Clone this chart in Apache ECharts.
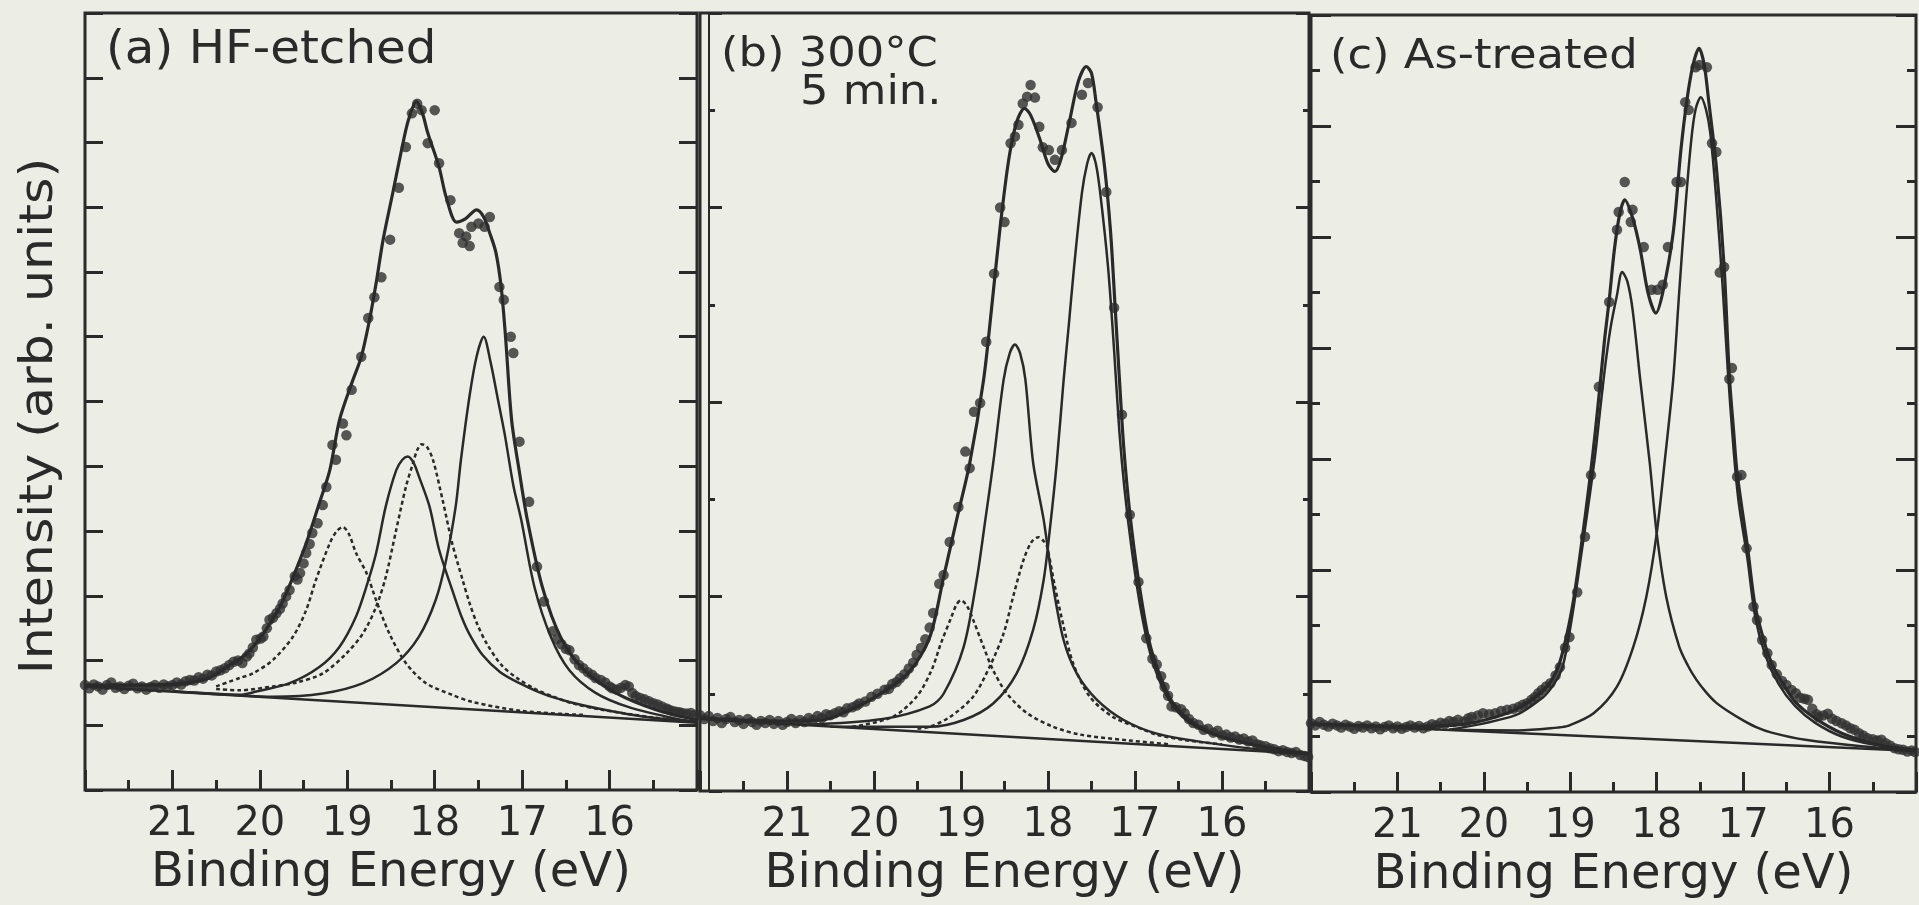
<!DOCTYPE html>
<html>
<head>
<meta charset="utf-8">
<script src="https://cdn.jsdelivr.net/npm/echarts@6/dist/echarts.min.js"></script>
<style>
  html, body { margin: 0; padding: 0; background: #eceee6; }
  #chart { width: 1919px; height: 905px; }
</style>
</head>
<body>
<div id="chart"></div>
<script>
// ---- panel (a) HF-etched : [binding energy eV, intensity]
const bgA = [[22, 1.6], [15, 1.04]]
const fitA = [[22, 1.62], [21.5, 1.62], [21.0, 1.63], [20.6, 1.72], [20.4, 1.88], [20.15, 2.11], [19.96, 2.42], [19.77, 2.83],
  [19.62, 3.29], [19.47, 3.81], [19.32, 4.43], [19.2, 4.94], [19.09, 5.71], [18.95, 6.28], [18.84, 6.69], [18.74, 7.3],
  [18.67, 7.83], [18.59, 8.5], [18.48, 9.22], [18.38, 9.88], [18.3, 10.35], [18.21, 10.63], [18.14, 10.45], [18.08, 10.15],
  [17.95, 9.62], [17.87, 9.16], [17.75, 8.77], [17.65, 8.82], [17.52, 8.96], [17.44, 8.85], [17.37, 8.6], [17.3, 8.3],
  [17.24, 7.77], [17.19, 7.0], [17.12, 5.71], [17.03, 4.9], [16.94, 4.17], [16.77, 3.14], [16.56, 2.36], [16.29, 1.85],
  [15.93, 1.5], [15.47, 1.24], [15.0, 1.08]]
const compA1 = [[21.0, 1.52], [20.4, 1.48], [19.85, 1.44], [19.28, 1.49], [18.82, 1.65], [18.44, 1.96], [18.18, 2.37],
  [17.99, 2.93], [17.87, 3.55], [17.76, 4.38], [17.7, 5.1], [17.6, 6.1], [17.52, 6.7], [17.44, 7.0], [17.36, 6.6],
  [17.28, 6.05], [17.2, 5.5], [17.1, 4.7], [17.01, 4.17], [16.86, 3.14], [16.67, 2.36], [16.46, 1.85], [16.16, 1.5],
  [15.78, 1.28], [15.17, 1.08], [15.0, 1.05]]
const compA2 = [[21.0, 1.53], [20.23, 1.47], [20.04, 1.52], [19.66, 1.65], [19.32, 1.9], [19.09, 2.21], [18.9, 2.68],
  [18.77, 3.19], [18.67, 3.66], [18.56, 4.38], [18.44, 4.94], [18.37, 5.1], [18.31, 5.15], [18.24, 5.05], [18.18, 4.84],
  [18.06, 4.38], [17.95, 3.71], [17.8, 3.09], [17.7, 2.7], [17.6, 2.4], [17.45, 2.08], [17.25, 1.82], [17.03, 1.65],
  [16.75, 1.48], [16.46, 1.36], [16.1, 1.25], [15.6, 1.13], [15.0, 1.05]]
const compA3 = [[20.5, 1.56], [20.23, 1.54], [19.85, 1.6], [19.58, 1.66], [19.28, 1.8], [19.01, 2.11], [18.82, 2.42],
  [18.67, 2.83], [18.56, 3.29], [18.44, 4.02], [18.33, 4.68], [18.25, 5.04], [18.2, 5.25], [18.15, 5.34], [18.09, 5.3],
  [18.02, 5.1], [17.91, 4.48], [17.8, 3.81], [17.68, 3.24], [17.6, 2.88], [17.51, 2.55], [17.4, 2.25], [17.23, 1.92],
  [17.05, 1.72], [16.85, 1.56], [16.66, 1.45], [16.4, 1.33], [16.09, 1.24], [15.5, 1.12], [15.0, 1.06]]
const compA4 = [[20.5, 1.6], [20.23, 1.73], [20.08, 1.8], [19.85, 2.01], [19.62, 2.37], [19.47, 2.78], [19.36, 3.24],
  [19.2, 3.81], [19.12, 4.0], [19.05, 4.06], [18.98, 3.95], [18.9, 3.66], [18.78, 3.35], [18.67, 2.93], [18.52, 2.42],
  [18.33, 1.96], [18.1, 1.65], [17.8, 1.47], [17.57, 1.36], [17.0, 1.22], [16.3, 1.16]]
const dotsA = [[22.0, 1.62], [21.95, 1.57], [21.9, 1.63], [21.85, 1.6], [21.8, 1.55], [21.75, 1.62], [21.7, 1.66], [21.65, 1.58],
  [21.6, 1.6], [21.55, 1.56], [21.5, 1.61], [21.45, 1.64], [21.4, 1.57], [21.35, 1.6], [21.3, 1.55], [21.25, 1.59], [21.2, 1.62],
  [21.15, 1.58], [21.1, 1.63], [21.05, 1.6], [21.0, 1.62], [20.95, 1.66], [20.9, 1.63], [20.85, 1.68], [20.8, 1.7],
  [20.75, 1.69], [20.7, 1.74], [20.65, 1.72], [20.6, 1.78], [20.55, 1.77], [20.5, 1.83], [20.45, 1.85], [20.4, 1.88],
  [20.35, 1.93], [20.3, 1.98], [20.25, 2.0], [20.2, 1.96], [20.15, 2.06], [20.12, 2.11], [20.08, 2.2], [20.04, 2.32],
  [19.99, 2.34], [19.96, 2.37], [19.92, 2.5], [19.89, 2.63], [19.85, 2.66], [19.81, 2.73], [19.77, 2.8], [19.74, 2.88],
  [19.7, 2.99], [19.66, 3.09], [19.6, 3.3], [19.57, 3.25], [19.54, 3.35], [19.5, 3.5], [19.47, 3.66], [19.43, 3.8],
  [19.4, 3.97], [19.34, 4.12], [19.28, 4.4], [19.24, 4.68], [19.17, 5.33], [19.13, 5.1], [19.05, 5.66], [19.01, 5.48],
  [18.95, 6.18], [18.84, 6.69], [18.76, 7.29], [18.69, 7.61], [18.61, 7.92], [18.51, 8.5], [18.41, 9.3], [18.33, 9.93],
  [18.26, 10.45], [18.2, 10.6], [18.15, 10.5], [18.08, 9.99], [18.0, 10.5], [17.95, 9.68], [17.82, 9.11], [17.72, 8.6],
  [17.68, 8.45], [17.64, 8.55], [17.6, 8.4], [17.58, 8.7], [17.5, 8.75], [17.43, 8.7], [17.37, 8.85], [17.26, 7.77],
  [17.21, 7.57], [17.13, 7.0], [17.1, 6.75], [17.03, 5.38], [16.92, 4.45], [16.83, 3.45], [16.75, 2.91], [16.65, 2.45],
  [16.6, 2.33], [16.55, 2.25], [16.5, 2.18], [16.46, 2.16], [16.4, 2.02], [16.35, 1.93], [16.3, 1.88], [16.25, 1.82],
  [16.2, 1.78], [16.16, 1.73], [16.1, 1.7], [16.05, 1.66], [16.0, 1.6], [15.97, 1.57], [15.92, 1.55], [15.87, 1.58],
  [15.82, 1.62], [15.78, 1.6], [15.74, 1.5], [15.7, 1.45], [15.65, 1.42], [15.6, 1.4], [15.55, 1.37], [15.5, 1.34],
  [15.45, 1.32], [15.4, 1.29], [15.35, 1.26], [15.32, 1.24], [15.28, 1.22], [15.24, 1.21], [15.2, 1.2], [15.17, 1.19],
  [15.12, 1.18], [15.07, 1.19], [15.03, 1.16]]

// ---- panel (b) 300°C 5 min.
const bgB = [[22, 0.74], [15, 0.38]]
const fitB = [[22, 0.75], [21.5, 0.73], [21.0, 0.72], [20.6, 0.73], [20.36, 0.8], [19.98, 0.97], [19.6, 1.22], [19.36, 1.58],
  [19.2, 2.2], [19.05, 2.79], [18.9, 3.37], [18.74, 4.23], [18.65, 4.95], [18.55, 5.8], [18.45, 6.5], [18.36, 6.88],
  [18.27, 7.02], [18.2, 6.95], [18.1, 6.72], [18.0, 6.45], [17.92, 6.37], [17.85, 6.5], [17.75, 6.9], [17.65, 7.3],
  [17.56, 7.45], [17.5, 7.38], [17.45, 7.1], [17.35, 6.42], [17.28, 5.74], [17.23, 5.0], [17.18, 4.25], [17.13, 3.54],
  [17.06, 2.86], [16.96, 2.17], [16.84, 1.55], [16.71, 1.18], [16.56, 0.9], [16.33, 0.7], [16.02, 0.56], [15.56, 0.46], [15.0, 0.38]]
const compB1 = [[20.5, 0.66], [19.36, 0.66], [18.97, 0.73], [18.63, 0.9], [18.36, 1.21], [18.17, 1.66], [18.05, 2.17],
  [17.98, 2.68], [17.9, 3.37], [17.82, 4.23], [17.76, 4.8], [17.7, 5.39], [17.61, 6.15], [17.55, 6.45], [17.5, 6.56],
  [17.45, 6.45], [17.4, 6.15], [17.31, 5.39], [17.24, 4.53], [17.18, 3.7], [17.12, 3.1], [17.04, 2.5], [16.94, 1.9],
  [16.82, 1.4], [16.66, 1.02], [16.45, 0.76], [16.15, 0.6], [15.6, 0.47], [15.0, 0.38]]
const compB2 = [[20.8, 0.68], [19.9, 0.74], [19.36, 0.87], [19.2, 1.0], [18.97, 1.48], [18.82, 2.17], [18.72, 2.79],
  [18.63, 3.37], [18.51, 4.23], [18.44, 4.5], [18.38, 4.59], [18.32, 4.5], [18.26, 4.23], [18.17, 3.37], [18.05, 2.79],
  [17.94, 2.1], [17.82, 1.55], [17.67, 1.21], [17.44, 0.94], [17.13, 0.73], [16.75, 0.59], [16.2, 0.5], [15.5, 0.42], [15.0, 0.39]]
const compB3 = [[19.5, 0.64], [19.36, 0.66], [19.13, 0.76], [18.86, 0.97], [18.67, 1.28], [18.51, 1.62], [18.4, 2.0],
  [18.28, 2.38], [18.19, 2.56], [18.11, 2.61], [18.05, 2.57], [18.01, 2.51], [17.92, 2.1], [17.82, 1.69], [17.71, 1.31],
  [17.52, 0.97], [17.25, 0.76], [16.9, 0.63], [16.76, 0.58], [16.4, 0.52], [16.0, 0.48]]
const compB4 = [[20.25, 0.66], [19.79, 0.76], [19.51, 0.97], [19.34, 1.24], [19.23, 1.52], [19.11, 1.79], [19.05, 1.92],
  [19.0, 1.96], [18.93, 1.9], [18.86, 1.76], [18.74, 1.48], [18.63, 1.24], [18.47, 1.0], [18.24, 0.8], [17.94, 0.66],
  [17.63, 0.58], [17.07, 0.52], [16.6, 0.48]]
const dotsB = [[22, 0.78], [21.95, 0.74], [21.9, 0.77], [21.85, 0.72], [21.8, 0.75], [21.75, 0.7], [21.7, 0.74], [21.65, 0.76],
  [21.6, 0.71], [21.55, 0.73], [21.5, 0.69], [21.45, 0.74], [21.4, 0.71], [21.35, 0.68], [21.3, 0.72], [21.25, 0.7],
  [21.2, 0.73], [21.15, 0.69], [21.1, 0.72], [21.05, 0.68], [21.0, 0.71], [20.95, 0.74], [20.9, 0.7], [20.85, 0.73],
  [20.8, 0.71], [20.75, 0.75], [20.7, 0.73], [20.65, 0.77], [20.6, 0.75], [20.55, 0.79], [20.5, 0.78], [20.45, 0.8],
  [20.4, 0.82], [20.35, 0.81], [20.31, 0.85], [20.25, 0.86], [20.2, 0.88], [20.17, 0.9], [20.1, 0.92], [20.03, 0.97],
  [19.96, 1.0], [19.88, 1.04], [19.83, 1.05], [19.79, 1.1], [19.74, 1.12], [19.7, 1.16], [19.65, 1.2], [19.6, 1.26],
  [19.55, 1.32], [19.51, 1.4], [19.46, 1.47], [19.41, 1.56], [19.36, 1.68], [19.32, 1.83], [19.25, 2.13], [19.2, 2.22],
  [19.13, 2.56], [19.03, 2.92], [18.95, 3.49], [18.9, 3.32], [18.85, 3.9], [18.78, 3.99], [18.71, 4.62], [18.62, 5.32],
  [18.55, 6.0], [18.5, 5.85], [18.43, 6.66], [18.38, 6.73], [18.34, 6.85], [18.29, 7.07], [18.24, 7.14], [18.2, 7.26],
  [18.15, 7.13], [18.1, 6.83], [18.06, 6.62], [17.99, 6.59], [17.92, 6.49], [17.84, 6.59], [17.73, 6.87], [17.61, 7.16],
  [17.54, 7.28], [17.43, 7.03], [17.33, 6.16], [17.24, 4.97], [17.15, 3.87], [17.06, 2.84], [16.96, 2.15], [16.87, 1.57],
  [16.8, 1.36], [16.75, 1.3], [16.7, 1.18], [16.66, 1.07], [16.62, 0.98], [16.58, 0.87], [16.53, 0.86], [16.47, 0.84],
  [16.43, 0.8], [16.38, 0.74], [16.33, 0.7], [16.27, 0.68], [16.21, 0.63], [16.16, 0.64], [16.1, 0.6], [16.05, 0.62],
  [16.0, 0.57], [15.95, 0.58], [15.9, 0.55], [15.85, 0.56], [15.8, 0.53], [15.75, 0.54], [15.7, 0.51], [15.65, 0.52],
  [15.6, 0.48], [15.56, 0.47], [15.5, 0.46], [15.45, 0.44], [15.4, 0.43], [15.35, 0.41], [15.3, 0.42], [15.25, 0.4],
  [15.2, 0.39], [15.15, 0.4], [15.1, 0.37], [15.05, 0.36], [15.01, 0.35]]

// ---- panel (c) As-treated
const bgC = [[22, 1.23], [15, 0.74]]
const fitC = [[22, 1.22], [21.5, 1.2], [21.0, 1.18], [20.5, 1.19], [20.09, 1.26], [19.64, 1.48], [19.32, 1.82], [19.2, 2.05],
  [19.1, 2.45], [18.98, 3.3], [18.88, 4.35], [18.77, 5.68], [18.71, 6.5], [18.65, 7.42], [18.6, 8.2], [18.55, 8.86],
  [18.49, 9.77], [18.43, 10.4], [18.37, 10.67], [18.28, 10.35], [18.19, 9.77], [18.1, 8.99], [18.01, 8.63], [17.93, 9.0],
  [17.81, 10.07], [17.72, 11.57], [17.65, 12.47], [17.58, 13.1], [17.51, 13.4], [17.45, 13.1], [17.4, 12.47], [17.31, 11.26],
  [17.22, 9.46], [17.16, 7.5], [17.11, 6.5], [17.07, 5.75], [16.95, 4.42], [16.86, 3.34], [16.74, 2.62], [16.67, 2.32],
  [16.59, 2.08], [16.4, 1.63], [16.17, 1.33], [15.86, 1.06], [15.48, 0.87], [15.1, 0.76], [15.0, 0.74]]
const compC1 = [[20.4, 1.12], [19.6, 1.11], [19.15, 1.16], [19.03, 1.19], [18.73, 1.42], [18.46, 1.9], [18.27, 2.62],
  [18.12, 3.52], [18.0, 4.66], [17.91, 5.92], [17.81, 7.42], [17.74, 9.0], [17.67, 10.5], [17.6, 11.75], [17.55, 12.3],
  [17.49, 12.52], [17.43, 12.3], [17.38, 11.87], [17.31, 10.67], [17.24, 9.17], [17.18, 7.66], [17.11, 6.16], [17.05, 5.2],
  [16.95, 4.2], [16.86, 3.15], [16.74, 2.45], [16.59, 1.95], [16.4, 1.55], [16.17, 1.25], [15.86, 1.0], [15.48, 0.85], [15.0, 0.75]]
const compC2 = [[20.4, 1.12], [19.64, 1.38], [19.32, 1.7], [19.2, 1.92], [19.09, 2.25], [18.98, 3.15], [18.88, 4.2],
  [18.77, 5.4], [18.71, 6.1], [18.65, 6.95], [18.59, 7.75], [18.53, 8.4], [18.46, 8.95], [18.4, 9.37], [18.34, 9.2],
  [18.28, 8.7], [18.19, 7.42], [18.08, 5.92], [18.0, 4.66], [17.89, 3.52], [17.74, 2.62], [17.64, 2.28], [17.54, 2.02],
  [17.43, 1.8], [17.32, 1.62], [17.16, 1.44], [17.01, 1.3], [16.85, 1.17], [16.67, 1.07], [16.28, 0.94], [15.6, 0.82], [15.0, 0.76]]
const dotsC = [[22, 1.24], [21.95, 1.2], [21.9, 1.26], [21.85, 1.21], [21.8, 1.18], [21.75, 1.23], [21.7, 1.2], [21.65, 1.16],
  [21.6, 1.21], [21.55, 1.18], [21.5, 1.14], [21.45, 1.19], [21.4, 1.16], [21.35, 1.2], [21.3, 1.15], [21.25, 1.18],
  [21.2, 1.13], [21.15, 1.17], [21.1, 1.2], [21.05, 1.15], [21.0, 1.18], [20.95, 1.14], [20.9, 1.17], [20.85, 1.2],
  [20.8, 1.16], [20.75, 1.19], [20.7, 1.15], [20.65, 1.18], [20.6, 1.22], [20.55, 1.2], [20.5, 1.25], [20.45, 1.23],
  [20.4, 1.28], [20.35, 1.26], [20.3, 1.3], [20.23, 1.27], [20.18, 1.33], [20.14, 1.35], [20.07, 1.38], [20.01, 1.42],
  [19.94, 1.4], [19.87, 1.42], [19.8, 1.46], [19.73, 1.48], [19.66, 1.5], [19.6, 1.53], [19.55, 1.57], [19.5, 1.6],
  [19.45, 1.66], [19.41, 1.71], [19.37, 1.78], [19.33, 1.84], [19.28, 1.9], [19.23, 1.96], [19.17, 2.1], [19.12, 2.25],
  [19.06, 2.6], [19.01, 2.79], [18.92, 3.6], [18.83, 4.6], [18.76, 5.71], [18.67, 7.3], [18.55, 8.83], [18.46, 10.13],
  [18.44, 10.45], [18.37, 10.99], [18.3, 10.27], [18.28, 10.49], [18.15, 9.82], [18.06, 9.05], [17.99, 9.05], [17.93, 9.14],
  [17.87, 9.82], [17.77, 10.99], [17.72, 10.99], [17.67, 12.43], [17.63, 12.29], [17.55, 13.06], [17.51, 13.1],
  [17.42, 13.06], [17.36, 11.69], [17.31, 11.53], [17.27, 9.36], [17.22, 9.46], [17.16, 7.44], [17.13, 7.64], [17.07, 5.68],
  [17.02, 5.71], [16.96, 4.39], [16.88, 3.34], [16.84, 3.1], [16.78, 2.74], [16.72, 2.5], [16.67, 2.29], [16.61, 2.12],
  [16.55, 2.0], [16.5, 1.93], [16.44, 1.84], [16.39, 1.78], [16.34, 1.7], [16.29, 1.68], [16.25, 1.66], [16.2, 1.5],
  [16.15, 1.4], [16.13, 1.35], [16.07, 1.38], [16.02, 1.41], [15.97, 1.32], [15.92, 1.28], [15.86, 1.24], [15.81, 1.2],
  [15.76, 1.15], [15.71, 1.12], [15.66, 1.06], [15.61, 1.02], [15.56, 0.97], [15.5, 0.95], [15.45, 0.93], [15.4, 0.94],
  [15.35, 0.88], [15.3, 0.84], [15.25, 0.79], [15.2, 0.77], [15.15, 0.76], [15.1, 0.73], [15.05, 0.75], [15.01, 0.72]]

const energyTicks = ['21', '20', '19', '18', '17', '16']

const ink = '#2a2a2a'
const font = 'DejaVu Sans'

const chart = echarts.init(document.getElementById('chart'))

// 三个面板共用的 x 轴
function xAxisFor(gi) {
  return {
    gridIndex: gi, type: 'value', min: 15, max: 22, interval: 1, inverse: true,
    axisLine: { show: false },
    axisTick: { inside: true, length: 20, lineStyle: { color: ink, width: 3 } },
    minorTick: { show: true, splitNumber: 2, length: 10, lineStyle: { color: ink, width: 3 } },
    splitLine: { show: false },
    axisLabel: {
      margin: 15, fontSize: 40, fontFamily: font, color: ink,
      formatter: v => energyTicks.includes(String(v)) ? String(v) : ''
    },
    name: 'Binding Energy (eV)', nameLocation: 'middle', nameGap: 37,
    nameTextStyle: { fontSize: 48, fontFamily: font, color: ink }
  }
}

// 左右两侧的 y 轴刻度（不显示标签）
function yAxesFor(gi, max, interval, len, minorLen, leftOffset) {
  const base = {
    gridIndex: gi, type: 'value', min: 0, max: max, interval: interval,
    axisLabel: { show: false }, splitLine: { show: false },
    axisTick: { inside: true, length: len, lineStyle: { color: ink, width: 3 } },
    minorTick: { show: minorLen > 0, splitNumber: 2, length: minorLen, lineStyle: { color: ink, width: 3 } }
  }
  return [
    Object.assign({}, base, { position: 'left', offset: leftOffset,
      axisLine: { show: leftOffset !== 0, lineStyle: { color: ink, width: 2 } } }),
    Object.assign({}, base, { position: 'right', axisLine: { show: false } })
  ]
}

function lineSeries(gi, data, width, dotted) {
  return {
    type: 'line', xAxisIndex: gi, yAxisIndex: gi * 2, data: data,
    showSymbol: false, smooth: 0.3, silent: true,
    lineStyle: { color: ink, width: width, type: dotted ? [4, 3] : 'solid' }
  }
}

function panelSeries(gi, dots, fit, bg, comps) {
  const list = [lineSeries(gi, bg, 2.5, false)]
  comps.forEach(c => list.push(lineSeries(gi, c.d, 2.5, c.dotted)))
  list.push(lineSeries(gi, fit, 3.2, false))
  list.push({
    type: 'scatter', xAxisIndex: gi, yAxisIndex: gi * 2, data: dots,
    symbol: 'circle', symbolSize: 10.5, itemStyle: { color: '#2f2f2f' }, silent: true
  })
  return list
}

const frame = { show: true, borderColor: ink, borderWidth: 3, backgroundColor: 'transparent' }

chart.setOption({
  animation: false,
  backgroundColor: '#eceee6',
  grid: [
    Object.assign({ left: 85, top: 13, width: 612, height: 777 }, frame),
    Object.assign({ left: 700, top: 13, width: 609, height: 778 }, frame),
    Object.assign({ left: 1311, top: 15, width: 611, height: 777 }, frame)
  ],
  xAxis: [xAxisFor(0), xAxisFor(1), xAxisFor(2)],
  yAxis: [
    ...yAxesFor(0, 12, 1, 18, 0, 0),
    ...yAxesFor(1, 8, 2, 13, 6, -9),
    ...yAxesFor(2, 14, 2, 20, 9, 0)
  ],
  series: [
    ...panelSeries(0, dotsA, fitA, bgA, [
      { d: compA1, dotted: false }, { d: compA2, dotted: false },
      { d: compA3, dotted: true }, { d: compA4, dotted: true }]),
    ...panelSeries(1, dotsB, fitB, bgB, [
      { d: compB1, dotted: false }, { d: compB2, dotted: false },
      { d: compB3, dotted: true }, { d: compB4, dotted: true }]),
    ...panelSeries(2, dotsC, fitC, bgC, [
      { d: compC1, dotted: false }, { d: compC2, dotted: false }])
  ],
  graphic: [
    { type: 'text', x: 40, y: 416, rotation: Math.PI / 2, scaleX: 1.1,
      style: { text: 'Intensity (arb. units)', fontSize: 46, fontFamily: font, fill: ink,
        textAlign: 'center', textVerticalAlign: 'middle', verticalAlign: 'middle' } },
    { type: 'text', x: 106, y: 28, scaleX: 1.05,
      style: { text: '(a) HF-etched', fontSize: 46, fontFamily: font, fill: ink } },
    { type: 'text', x: 721, y: 36, scaleX: 1.12,
      style: { text: '(b) 300°C', fontSize: 40, fontFamily: font, fill: ink } },
    { type: 'text', x: 800, y: 74, scaleX: 1.12,
      style: { text: '5 min.', fontSize: 40, fontFamily: font, fill: ink } },
    { type: 'text', x: 1330, y: 38, scaleX: 1.12,
      style: { text: '(c) As-treated', fontSize: 40, fontFamily: font, fill: ink } }
  ]
})
</script>
</body>
</html>
